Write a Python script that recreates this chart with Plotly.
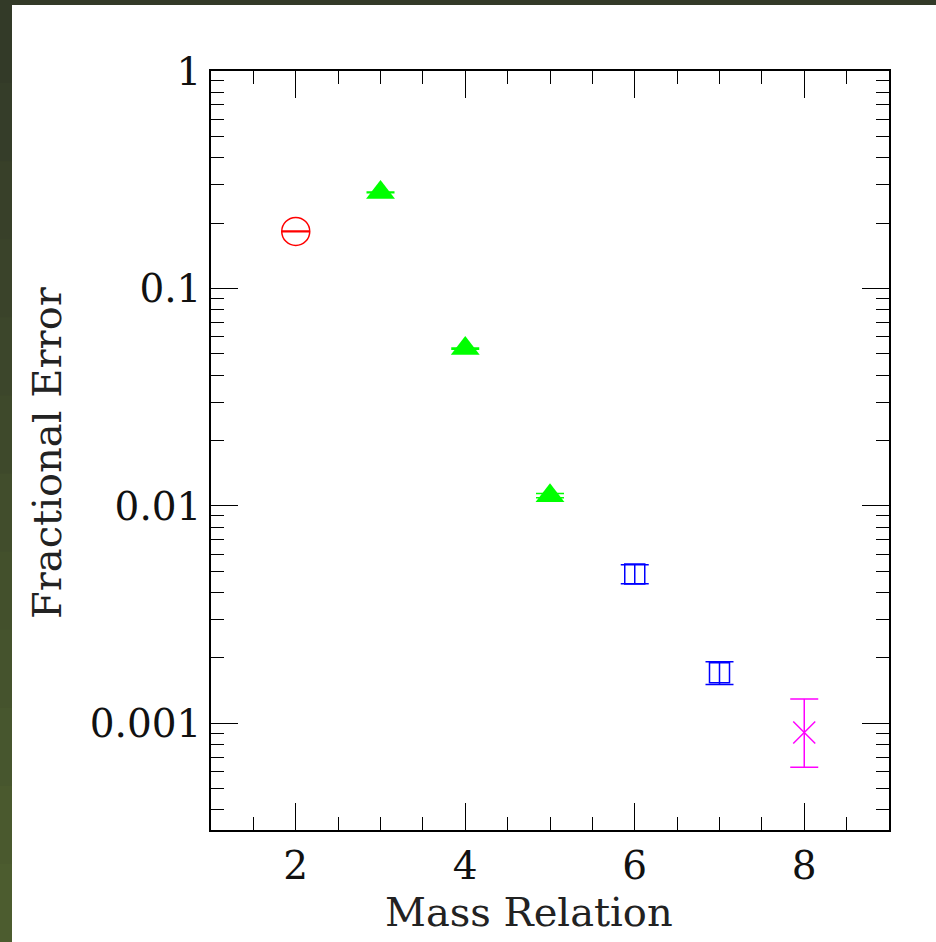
import plotly.graph_objects as go

# Data
rel_circle = [2]
err_circle = [0.183]
dev_circle = [0.0008]

rel_tri = [3, 4, 5]
err_tri = [0.2766, 0.0529, 0.01115]
dev_tri = [0.0012, 0.0003, 0.00025]

rel_sq = [6, 7]
err_sq_val = [0.00486, 0.00171]
err_sq_plus = [0.00051, 0.00021]
err_sq_minus = [0.00047, 0.00020]

rel_x = [8]
err_x_val = [0.000908]
err_x_plus = [0.000386]
err_x_minus = [0.000279]

y_tickvals = [1, 0.1, 0.01, 0.001]
y_ticktext = ["1", "0.1", "0.01", "0.001"]
x_tickvals = [2, 4, 6, 8]
x_ticktext = ["2", "4", "6", "8"]

W, H = 936, 942
L, R, T, B = 211, 47, 71, 112
pw, ph = W - L - R, H - T - B

def px(xp):
    return (xp - L) / pw

def py(yp):
    return (H - B - yp) / ph

FONT = "DejaVu Serif"

fig = go.Figure()

fig.add_trace(go.Scatter(
    x=rel_circle, y=err_circle, mode="markers",
    marker=dict(symbol="circle-open", size=28, color="#ff0000", line=dict(width=1.5, color="#ff0000")),
    error_y=dict(type="data", array=dev_circle, color="#ff0000", thickness=1.5, width=14),
    showlegend=False))

fig.add_trace(go.Scatter(
    x=rel_tri, y=err_tri, mode="markers",
    marker=dict(symbol="triangle-up", size=25, color="#00ff00", line=dict(width=0)),
    error_y=dict(type="data", array=dev_tri, color="#00ff00", thickness=1.5, width=14),
    showlegend=False))

fig.add_trace(go.Scatter(
    x=rel_sq, y=err_sq_val, mode="markers",
    marker=dict(symbol="square-open", size=20, color="#0000ff", line=dict(width=1.5, color="#0000ff")),
    error_y=dict(type="data", symmetric=False, array=err_sq_plus, arrayminus=err_sq_minus,
                 color="#0000ff", thickness=1.5, width=14),
    showlegend=False))

fig.add_trace(go.Scatter(
    x=rel_x, y=err_x_val, mode="markers",
    marker=dict(symbol="x-thin-open", size=22, color="#ff00ff", line=dict(width=1.5, color="#ff00ff")),
    error_y=dict(type="data", symmetric=False, array=err_x_plus, arrayminus=err_x_minus,
                 color="#ff00ff", thickness=1.5, width=14),
    showlegend=False))

minor_y = [k * 10 ** e for e in range(-4, 1) for k in range(2, 10)]

fig.update_xaxes(
    range=[1, 9], tickvals=x_tickvals, ticktext=x_ticktext,
    ticks="inside", ticklen=27, tickwidth=1, tickcolor="black",
    showline=True, linecolor="black", linewidth=1.5, mirror="allticks",
    showgrid=False, zeroline=False,
    tickfont=dict(family=FONT, size=39, color="#111"),
    minor=dict(ticks="inside", dtick=0.5, tick0=0, ticklen=13, tickwidth=1, tickcolor="black", showgrid=False),
)
fig.update_yaxes(
    type="log", range=[-3.49, 0], tickvals=y_tickvals, ticktext=y_ticktext,
    ticks="inside", ticklen=27, tickwidth=1, tickcolor="black",
    showline=True, linecolor="black", linewidth=1.5, mirror="allticks",
    showgrid=False, zeroline=False,
    tickfont=dict(family=FONT, size=39, color="#111"),
    minor=dict(ticks="inside", tickvals=minor_y, ticklen=13, tickwidth=1, tickcolor="black", showgrid=False),
)

shapes = [dict(type="rect", xref="paper", yref="paper", layer="below",
               x0=px(12), x1=px(W + 5), y0=py(H + 5), y1=py(5),
               fillcolor="white", line=dict(width=0))]
# left dark strip gradient
n = 12
c0 = (0x33, 0x3a, 0x28)
c1 = (0x4c, 0x5c, 0x2f)
for i in range(n):
    f = i / (n - 1)
    col = "rgb(%d,%d,%d)" % tuple(int(round(a + (b - a) * f)) for a, b in zip(c0, c1))
    y0p = 5 + (H - 5) * i / n
    y1p = 5 + (H - 5) * (i + 1) / n
    shapes.append(dict(type="rect", xref="paper", yref="paper", layer="below",
                       x0=px(-2), x1=px(12), y0=py(y1p + 1), y1=py(y0p),
                       fillcolor=col, line=dict(width=0)))

annotations = [
    dict(text="Mass Relation", xref="paper", yref="paper", x=px(529), y=py(912),
         showarrow=False, xanchor="center", yanchor="middle",
         font=dict(family=FONT, size=40, color="#222")),
    dict(text="Fractional Error", xref="paper", yref="paper", x=px(47), y=py(453),
         showarrow=False, xanchor="center", yanchor="middle", textangle=-90,
         font=dict(family=FONT, size=40, color="#222")),
]

fig.update_layout(
    width=W, height=H,
    margin=dict(l=L, r=R, t=T, b=B),
    paper_bgcolor="#333a28", plot_bgcolor="white",
    shapes=shapes, annotations=annotations,
)

fig.write_html("out.html", config={"displayModeBar": False},
               post_script="document.body.style.margin='0';document.body.style.overflow='hidden';")
